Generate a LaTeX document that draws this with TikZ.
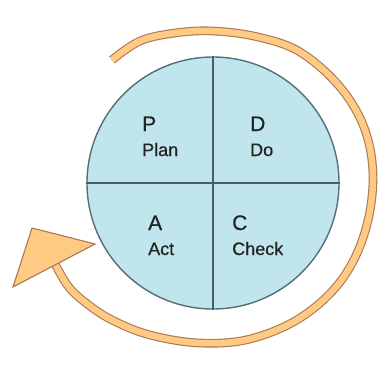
\documentclass[tikz,border=0pt]{standalone}
\usepackage{fontspec}
\setmainfont{Liberation Sans}
\newfontfamily\labelfont[FakeBold=0.6]{Liberation Sans}
\usepackage{xcolor}
\usetikzlibrary{positioning}

\definecolor{discblue}{RGB}{193,229,236}
\definecolor{discedge}{RGB}{84,110,120}
\definecolor{loopfill}{RGB}{255,202,132}
\definecolor{loopedge}{RGB}{170,120,82}
\definecolor{inkgray}{RGB}{34,34,34}

\begin{document}
\begin{tikzpicture}[
    x=1pt, y=-1pt,
    disc/.style={draw=discedge, line width=1.4pt, fill=discblue, circle, minimum size=252pt, inner sep=0pt},
    divider/.style={draw=discedge!85!black, line width=1.4pt},
    letter/.style={anchor=base west, inner sep=0pt, text=inkgray, font=\labelfont\fontsize{21}{21}\selectfont},
    word/.style={anchor=base west, inner sep=0pt, text=inkgray, font=\labelfont\fontsize{18}{18}\selectfont},
    band/.style={draw=loopedge, line width=1.1pt, double=loopfill, double distance=6.5pt},
    head/.style={draw=loopedge, line width=1.1pt, fill=loopfill, line join=miter}
]
\useasboundingbox (0,0) rectangle (390,367);

% the cycle
\node[disc] (cycle) at (213,183) {};
\draw[divider] (cycle.north) -- (cycle.south);
\draw[divider] (cycle.west) -- (cycle.east);

\node[letter] (plan) at (142,131) {P};
\node[word] (planw) at (142,156) {Plan};
\node[letter] (do) at (250,131) {D};
\node[word] (dow) at (250,156) {Do};
\node[letter] (act) at (148,230) {A};
\node[word] (actw) at (148,255) {Act};
\node[letter] (check) at (232,230) {C};
\node[word] (checkw) at (232,255) {Check};

% the loop round it
\coordinate (tip) at (32,228);
\coordinate (wingr) at (95,244);
\coordinate (wingl) at (13,287);
\draw[band] plot[smooth, tension=0.6] coordinates {(112,60) (140,41) (175,33) (213,31) (258,37) (300,52) (340,87) (365,130) (373,180) (364,235) (340,282) (300,318) (250,339) (200,343) (150,335) (112,320) (86,303) (68,286) (54,262)};
\draw[head] (tip) -- (wingr) -- (wingl) -- cycle;
\end{tikzpicture}
\end{document}
